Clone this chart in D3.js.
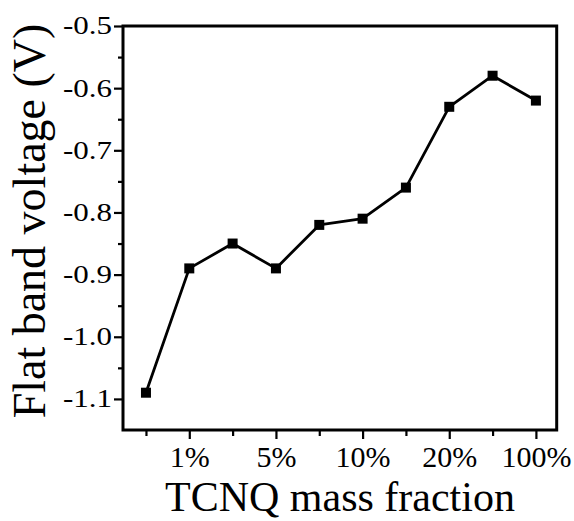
<!DOCTYPE html>
<html>
<head>
<meta charset="utf-8">
<script src="https://cdn.jsdelivr.net/npm/d3@7"></script>
<style>
  html, body { margin: 0; padding: 0; background: #fff; }
  svg { display: block; }
  svg text { font-family: 'Liberation Serif', 'Tinos', 'Noto Serif', 'DejaVu Serif', 'Nimbus Roman', 'FreeSerif', serif !important; fill: #000; }
</style>
</head>
<body>
<script>
"use strict";
// data
var pointIndex = [0, 1, 2, 3, 4, 5, 6, 7, 8, 9];
var flatBandVoltage = [-1.09, -0.89, -0.85, -0.89, -0.82, -0.81, -0.76, -0.63, -0.58, -0.62];
var xTickLabels = ["", "1%", "", "5%", "", "10%", "", "20%", "", "100%"];
var yTicks = [-1.1, -1.0, -0.9, -0.8, -0.7, -0.6, -0.5];
var yMinorTicks = [-1.05, -0.95, -0.85, -0.75, -0.65, -0.55];

function draw() {
    var width = 574, height = 521;
    var left = 123, right = 556.7, top = 26, bottom = 430;

    var svg = d3.select("body")
        .append("svg")
        .attr("width", width)
        .attr("height", height);

    var x = d3.scaleLinear().domain([-0.53, 9.48]).range([left, right]);
    var y = d3.scaleLinear().domain([-1.15, -0.5]).range([bottom, top]);

    var data = pointIndex.map(function(d, i) {
        return {i: d, v: flatBandVoltage[i], label: xTickLabels[i]};
    });

    // frame
    svg.append("rect")
        .attr("x", left).attr("y", top)
        .attr("width", right - left).attr("height", bottom - top)
        .attr("fill", "none")
        .attr("stroke", "#000")
        .attr("stroke-width", 3);

    // x axis: labelled (major) ticks and minor ticks
    var majorX = data.filter(function(d) { return d.label !== ""; });
    var minorX = data.filter(function(d) { return d.label === ""; });

    var xAxis = svg.append("g")
        .attr("transform", "translate(0," + bottom + ")")
        .call(d3.axisBottom(x)
            .tickValues(majorX.map(function(d) { return d.i; }))
            .tickFormat(function(v) { return xTickLabels[v]; })
            .tickSize(9)
            .tickPadding(7));
    xAxis.select(".domain").remove();
    xAxis.selectAll("line").attr("stroke-width", 2.2);
    xAxis.selectAll("text").attr("font-size", 30);

    var xMinor = svg.append("g")
        .attr("transform", "translate(0," + bottom + ")")
        .call(d3.axisBottom(x)
            .tickValues(minorX.map(function(d) { return d.i; }))
            .tickFormat("")
            .tickSize(6));
    xMinor.select(".domain").remove();
    xMinor.selectAll("line").attr("stroke-width", 2.2);

    // y axis
    var yAxis = svg.append("g")
        .attr("transform", "translate(" + left + ",0)")
        .call(d3.axisLeft(y)
            .tickValues(yTicks)
            .tickFormat(function(v) { return v.toFixed(1); })
            .tickSize(9)
            .tickPadding(2));
    yAxis.select(".domain").remove();
    yAxis.selectAll("line").attr("stroke-width", 2.2);
    yAxis.selectAll("text")
        .attr("font-size", 31)
        .attr("transform", "scale(1,0.8)");

    var yMinor = svg.append("g")
        .attr("transform", "translate(" + left + ",0)")
        .call(d3.axisLeft(y)
            .tickValues(yMinorTicks)
            .tickFormat("")
            .tickSize(5));
    yMinor.select(".domain").remove();
    yMinor.selectAll("line").attr("stroke-width", 2.2);

    // line + square markers
    var line = d3.line()
        .x(function(d) { return x(d.i); })
        .y(function(d) { return y(d.v); });

    svg.append("path")
        .datum(data)
        .attr("d", line)
        .attr("fill", "none")
        .attr("stroke", "#000")
        .attr("stroke-width", 2.8)
        .attr("stroke-linejoin", "round");

    var size = 10;
    svg.selectAll(".marker")
        .data(data)
        .enter().append("rect")
        .attr("class", "marker")
        .attr("x", function(d) { return x(d.i) - size / 2; })
        .attr("y", function(d) { return y(d.v) - size / 2; })
        .attr("width", size)
        .attr("height", size)
        .attr("fill", "#000");

    // axis titles
    svg.append("text")
        .attr("x", 340)
        .attr("y", 511)
        .attr("text-anchor", "middle")
        .attr("font-size", 42)
        .text("TCNQ mass fraction");

    svg.append("text")
        .attr("transform", "translate(45,221) rotate(-90)")
        .attr("text-anchor", "middle")
        .attr("font-size", 46)
        .text("Flat band voltage (V)");
}

draw();
</script>
</body>
</html>
